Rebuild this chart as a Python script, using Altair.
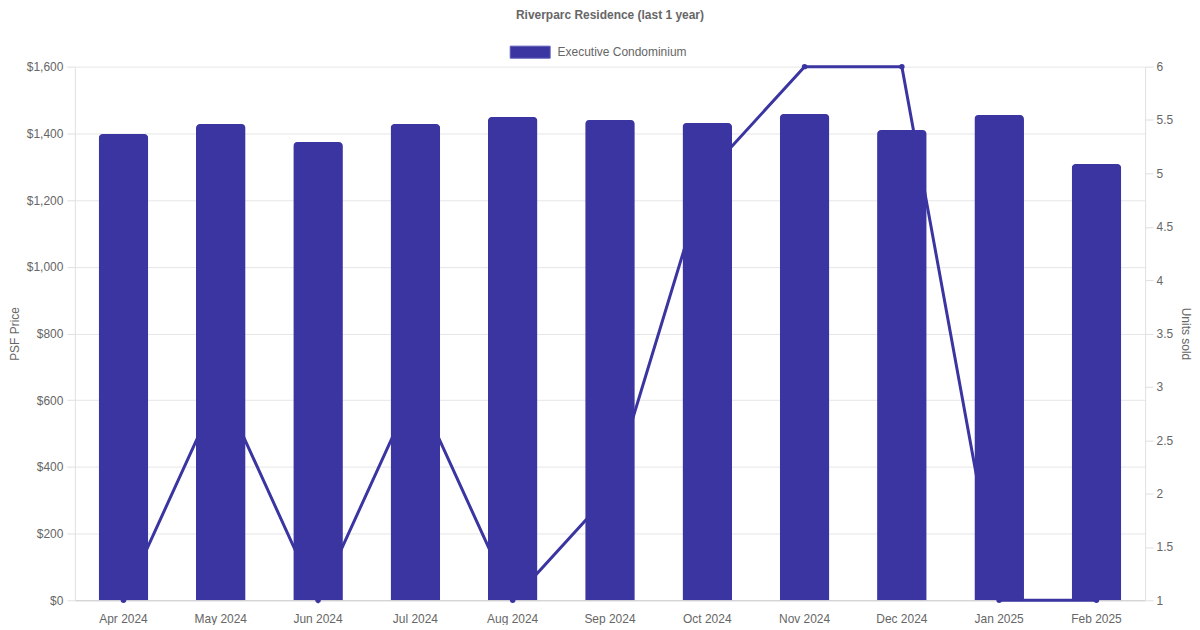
import altair as alt
import pandas as pd

months = ["Apr 2024", "May 2024", "Jun 2024", "Jul 2024", "Aug 2024", "Sep 2024",
          "Oct 2024", "Nov 2024", "Dec 2024", "Jan 2025", "Feb 2025"]
psf = [1398, 1428, 1374, 1428, 1449, 1440, 1431, 1458, 1410, 1455, 1308]
units = [1, 3, 1, 3, 1, 2, 5, 6, 6, 1, 1]
series = ["Executive Condominium"] * len(months)

df = pd.DataFrame({"month": months, "psf": psf, "units": units, "series": series})

COLOR = "#3a35a1"
GRAY = "#666666"
FONT = "Liberation Sans"

x = alt.X("month:N", sort=months, title=None,
          scale=alt.Scale(paddingInner=0.49, paddingOuter=0.245),
          axis=alt.Axis(labelAngle=0, ticks=False, labelPadding=13, domainColor="#cccccc",
                        grid=False, labelColor=GRAY, labelFontSize=12, labelFont=FONT))

line = alt.Chart(df).mark_line(
    color=COLOR, strokeWidth=3,
    point=alt.OverlayMarkDef(color=COLOR, filled=True, size=30)
).encode(
    x=x,
    y=alt.Y("units:Q", title="Units sold",
            scale=alt.Scale(domain=[1, 6], nice=False, zero=False),
            axis=alt.Axis(orient="right", values=[1, 1.5, 2, 2.5, 3, 3.5, 4, 4.5, 5, 5.5, 6],
                          format="~g", grid=False, tickSize=8, labelPadding=3,
                          titlePadding=6, domainColor="#e0e0e0", tickColor="#e0e0e0")),
)

bars = alt.Chart(df).mark_bar(
    cornerRadiusTopLeft=4, cornerRadiusTopRight=4
).encode(
    x=x,
    y=alt.Y("psf:Q", title="PSF Price",
            scale=alt.Scale(domain=[0, 1600], nice=False),
            axis=alt.Axis(orient="left", values=[0, 200, 400, 600, 800, 1000, 1200, 1400, 1600],
                          format="$,.0f", grid=True, gridColor="#e6e6e6", tickSize=8,
                          labelPadding=4, titlePadding=5, domainColor="#e0e0e0",
                          tickColor="#e0e0e0")),
    color=alt.Color("series:N", scale=alt.Scale(range=[COLOR]),
                    legend=alt.Legend(title=None, orient="none", legendX=436, legendY=-35,
                                      symbolType="M-1,-0.3H1V0.3H-1Z", symbolSize=1600,
                                      symbolStrokeWidth=1, symbolStrokeColor="#5a56b5",
                                      labelOffset=7,
                                      labelFontSize=12, labelColor=GRAY, labelFont=FONT)),
)

chart = alt.layer(line, bars).resolve_scale(y="independent").properties(
    width=1073, height=535,
    padding=0,
    title=alt.TitleParams("Riverparc Residence (last 1 year)", fontSize=12, fontWeight="bold",
                          color=GRAY, font=FONT, offset=10, anchor="middle"),
).configure_view(stroke=None).configure_axis(
    labelColor=GRAY, titleColor=GRAY, labelFontSize=12, titleFontSize=12,
    labelFont=FONT, titleFont=FONT, titleFontWeight="normal"
)

chart.save("out.html", embed_options={"renderer": "svg", "actions": False})
